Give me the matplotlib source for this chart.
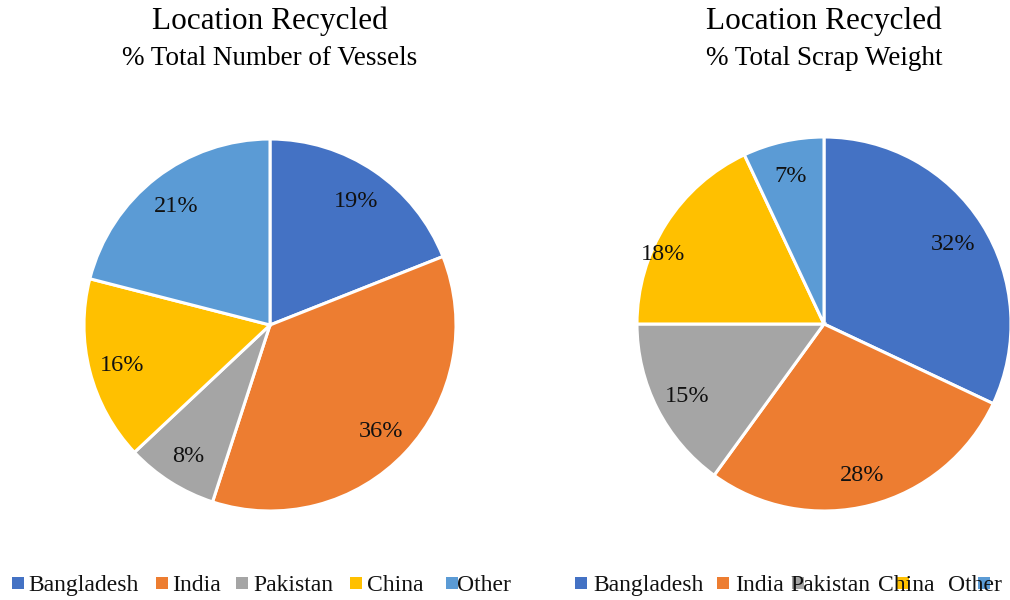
import numpy as np
import matplotlib.pyplot as plt
from matplotlib.patches import Rectangle

plt.rcParams['font.family'] = ['Liberation Serif', 'DejaVu Serif']

countries = ['Bangladesh', 'India', 'Pakistan', 'China', 'Other']
colors = ['#4472C4', '#ED7D31', '#A5A5A5', '#FFC000', '#5B9BD5']
vessels_pct = [19, 36, 8, 16, 21]
weight_pct = [32, 28, 15, 18, 7]

W, H = 1010, 600
fig = plt.figure(figsize=(W / 100, H / 100), dpi=100)


def px_axes(cx, cy, r):
    # axes box in figure coords from pixel centre / radius
    return [(cx - r) / W, (H - cy - r) / H, 2 * r / W, 2 * r / H]


def draw_pie(ax, vals, r):
    _, _, autotexts = ax.pie(vals, colors=colors, startangle=90, counterclock=False,
                             autopct='%d%%', pctdistance=0.82,
                             wedgeprops=dict(edgecolor='white', linewidth=2.2),
                             textprops=dict(fontsize=17.5, color='#111111'))
    # nudge labels down a touch
    for t in autotexts:
        x, y = t.get_position()
        t.set_position((x, y - 2.5 / r))
    ax.set_xlim(-1, 1)
    ax.set_ylim(-1, 1)
    ax.set_aspect('equal')
    ax.axis('off')
    return autotexts


ax1 = fig.add_axes(px_axes(270, 325, 186))
draw_pie(ax1, vessels_pct, 186)
ax2 = fig.add_axes(px_axes(824, 324, 187))
at2 = draw_pie(ax2, weight_pct, 187)
# the China label sits further out in the original
a = np.radians(156.6)
at2[3].set_position((0.94 * np.cos(a), 0.94 * np.sin(a)))

# titles
for cx, sub in [(270, '% Total Number of Vessels'), (824, '% Total Scrap Weight')]:
    fig.text(cx / W, 1 - 29 / H, 'Location Recycled', ha='center', va='baseline', fontsize=22.5)
    fig.text(cx / W, 1 - 65 / H, sub, ha='center', va='baseline', fontsize=19.5)

# legends (second one has the squeezed layout of the original)
leg1_sq = [12, 156, 236, 350, 446]
leg1_tx = [28, 172, 253, 367, 457]
leg2_sq = [575, 717, 792, 897, 978]
leg2_tx = [593, 735, 790, 878, 948]
for sqs, txs in [(leg1_sq, leg1_tx), (leg2_sq, leg2_tx)]:
    for name, c, sx, tx in zip(countries, colors, sqs, txs):
        fig.text(tx / W, 1 - 591 / H, name, ha='left', va='baseline', fontsize=17,
                 color='#111111', zorder=6)
        fig.patches.append(Rectangle((sx / W, 1 - 589 / H), 12 / W, 12 / H,
                                     transform=fig.transFigure, facecolor=c,
                                     edgecolor='none', zorder=1))

fig.savefig('out.png', dpi=100)
